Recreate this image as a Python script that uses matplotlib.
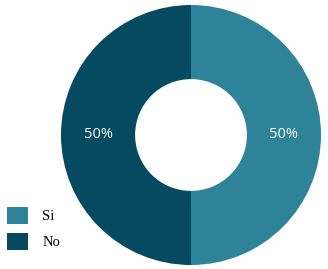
import numpy as np
import matplotlib.pyplot as plt
from matplotlib.patches import Patch

labels = ['Si', 'No']
values = [50, 50]
colors = ['#2e8399', '#054a61']

fig = plt.figure(figsize=(3.28, 2.69), dpi=100)
ax = fig.add_axes([61 / 328, 4 / 269, 260 / 328, 260 / 269])

wedges, _ = ax.pie(values, colors=colors, startangle=90, counterclock=False,
                   radius=1.0, wedgeprops=dict(width=0.57, linewidth=0))
for w, v in zip(wedges, values):
    ang = np.deg2rad((w.theta1 + w.theta2) / 2)
    r = 0.715
    ax.text(r * np.cos(ang), r * np.sin(ang), f'{v}%', ha='center', va='center',
            color='white', fontsize=10.5, fontweight='medium',
            family=['Open Sans', 'DejaVu Sans'])
ax.set_xlim(-1, 1)
ax.set_ylim(-1, 1)
ax.set_aspect('equal')
ax.axis('off')

handles = [Patch(facecolor=c, edgecolor='none') for c in colors]
fig.legend(handles, labels, loc='lower left', bbox_to_anchor=(0.0, 0.045),
           frameon=False, prop={'family': 'Liberation Serif', 'size': 10.5},
           handlelength=1.4, handleheight=1.4, handletextpad=1.0,
           labelspacing=0.6, borderaxespad=0.1)

fig.savefig('out.png', dpi=100)
